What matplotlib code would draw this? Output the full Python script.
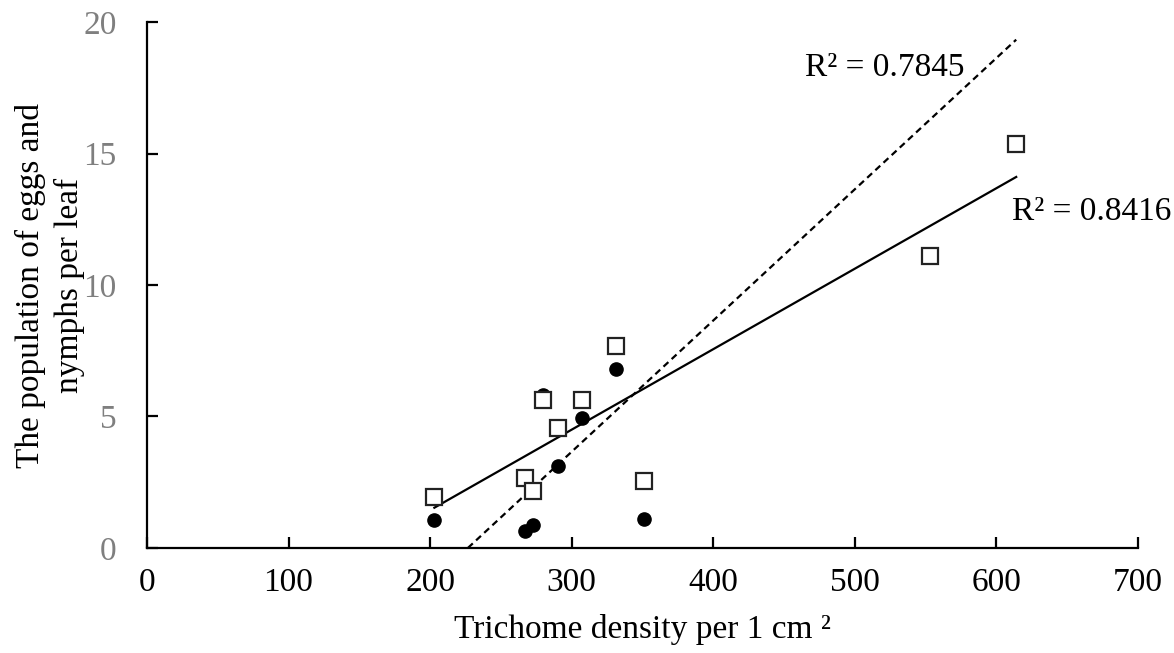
import matplotlib.pyplot as plt
import numpy as np

plt.rcParams['font.family'] = ['Liberation Serif', 'DejaVu Serif']

# trichome density (x) and population (y)
x_sq = [203, 267, 273, 280, 290, 307, 331, 351, 553, 614]
y_sq = [1.94, 2.66, 2.17, 5.63, 4.56, 5.63, 7.68, 2.55, 11.1, 15.36]

x_ci = [203, 267, 273, 280, 290, 307, 331, 351]
y_ci = [1.06, 0.65, 0.87, 5.8, 3.12, 4.94, 6.8, 1.1]

# trendlines: slope, intercept, x range
solid_fit = (0.0306, -4.68)
solid_x = [203, 614]
dash_fit = (0.0499, -11.31)
dash_x = [226.7, 614]

r2_labels = ['R² = 0.7845', 'R² = 0.8416']

fig = plt.figure(figsize=(11.74, 6.53), dpi=100)
ax = fig.add_axes([0.1252, 0.1608, 0.8441, 0.8055])

xs = np.array(solid_x)
ax.plot(xs, solid_fit[0]*xs + solid_fit[1], color='black', lw=1.6, zorder=2)
xd = np.array(dash_x)
ax.plot(xd, dash_fit[0]*xd + dash_fit[1], color='black', lw=1.6, ls=(0, (3, 2)), zorder=2)

ax.plot(x_ci, y_ci, 'o', color='black', ms=9.5, ls='none', zorder=3)
ax.plot(x_sq, y_sq, 's', mfc='white', mec='#222222', mew=1.6, ms=11.5, ls='none', zorder=4)

# labels placed in pixel coords (origin bottom-left)
ax.text(805, 653 - 68, r2_labels[0], transform=None, fontsize=24, va='center', ha='left')
ax.text(1012, 653 - 212, r2_labels[1], transform=None, fontsize=24, va='center', ha='left')

ax.set_xlim(0, 700)
ax.set_ylim(0, 20)
ax.set_xticks(range(0, 701, 100))
ax.set_yticks(range(0, 21, 5))
for s in ['top', 'right']:
    ax.spines[s].set_visible(False)
for s in ['left', 'bottom']:
    ax.spines[s].set_linewidth(1.6)
ax.tick_params(axis='both', direction='in', length=8, width=1.6, labelsize=24)
ax.tick_params(axis='x', pad=14)
ax.tick_params(axis='y', pad=22, labelcolor='#7f7f7f')

ax.set_xlabel('Trichome density per 1 cm ²', fontsize=24)
ax.xaxis.set_label_coords(0.5, -0.125)
ax.set_ylabel('The population of eggs and\nnymphs per leaf', fontsize=24, linespacing=1.3)
ax.yaxis.set_label_coords(-0.063, 0.5)

fig.savefig('out.png', dpi=100)
